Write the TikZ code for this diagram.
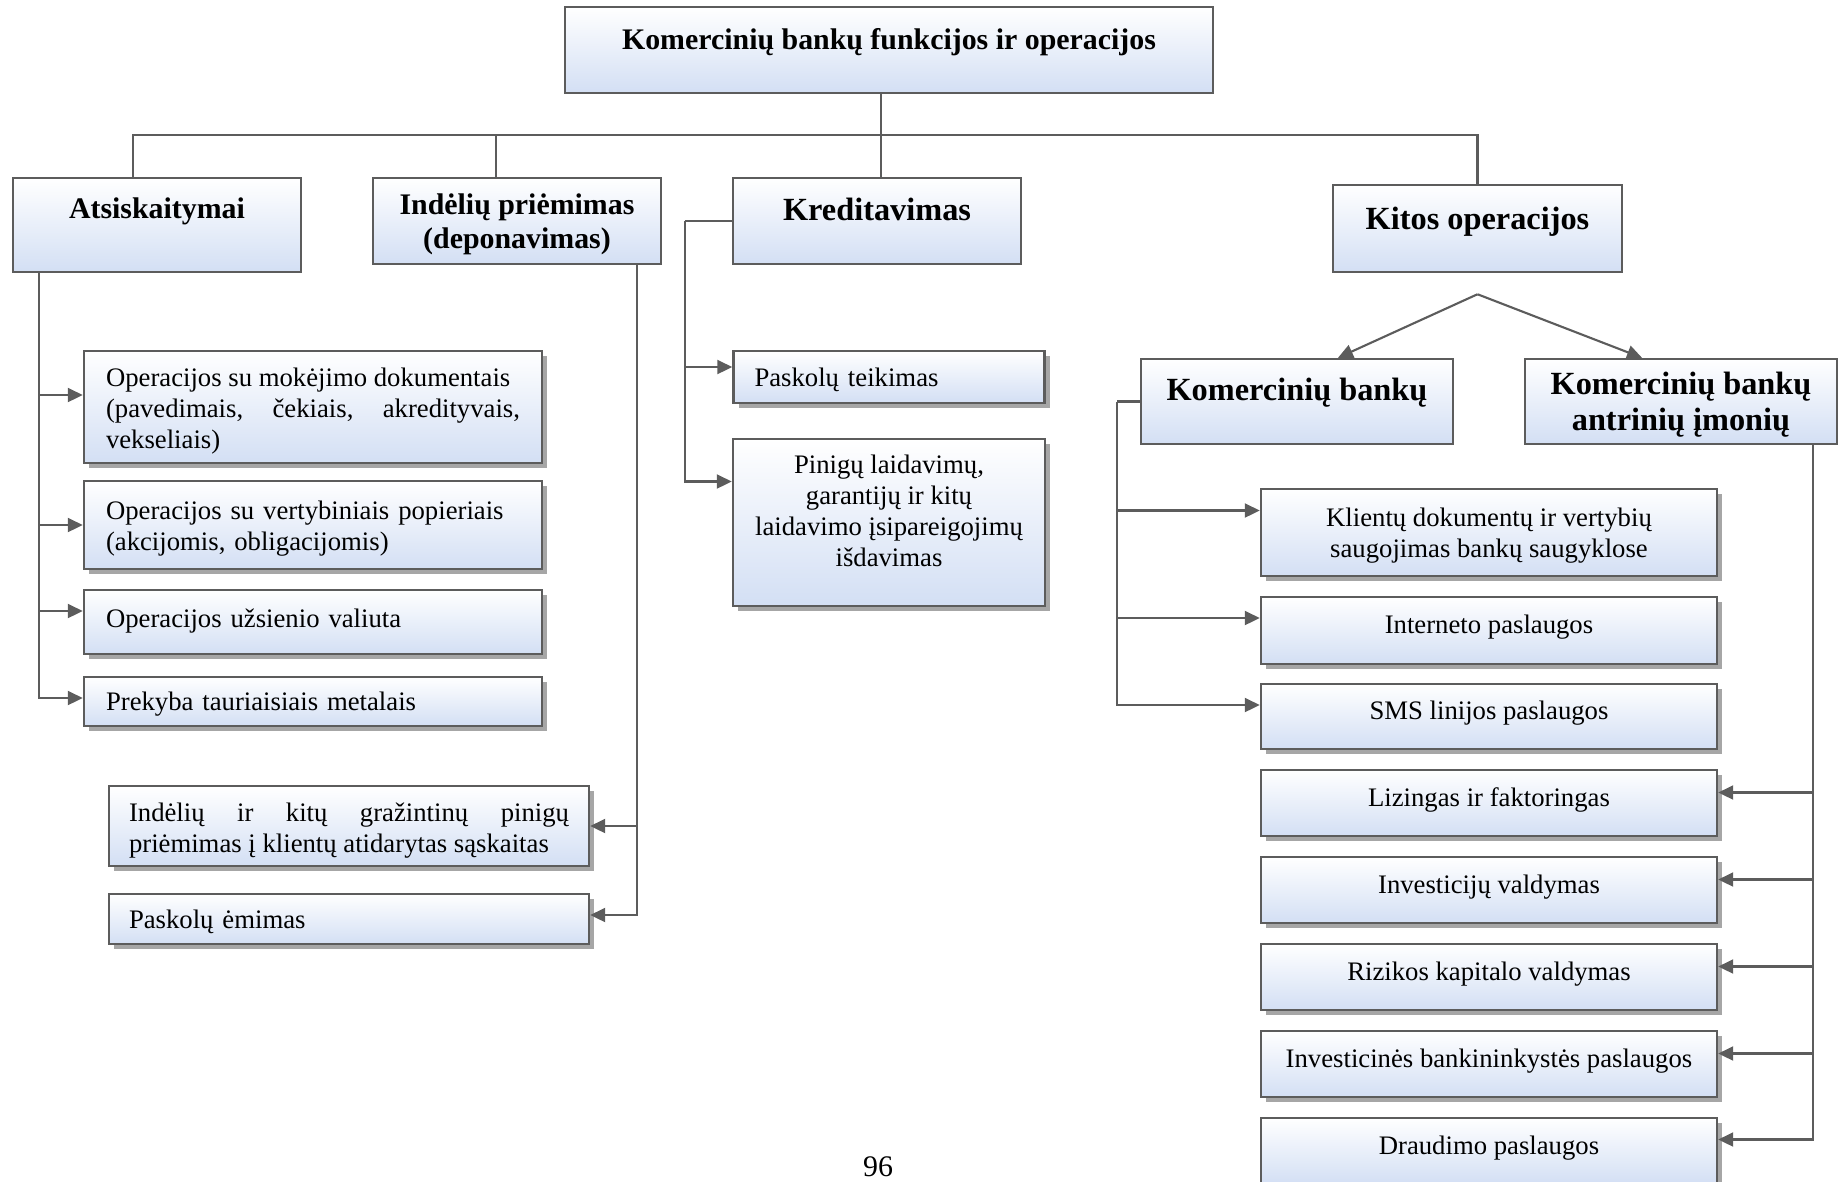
\documentclass[tikz,border=0pt]{standalone}
\usepackage{fontspec}
\setmainfont{Liberation Serif}
\usetikzlibrary{arrows.meta,shadows}

\definecolor{boxline}{RGB}{92,92,92}
\definecolor{boxblue}{RGB}{211,223,244}

\tikzset{
  bx/.style={draw=boxline, line width=0.7pt, top color=white, bottom color=boxblue, inner xsep=2mm, inner ysep=0pt},
  sh/.style={drop shadow={shadow xshift=0.5mm, shadow yshift=-0.5mm, fill=black!35, opacity=1}},
  hd/.style={font=\fontsize{8.5}{9.7}\selectfont\bfseries, align=center},
  hdb/.style={font=\fontsize{9.2}{10.2}\selectfont\bfseries, align=center},
  tx/.style={font=\fontsize{7.6}{8.8}\selectfont},
  ln/.style={draw=boxline, line width=0.6pt},
  arr/.style={ln, -{Triangle[length=1.5mm,width=1.4mm]}}
}

\begin{document}
\begin{tikzpicture}[x=0.1mm, y=-0.1mm]
    \useasboundingbox (0,0) rectangle (1839,1181);

    % Nodes
    \node[bx, hd, minimum width=64.8mm, minimum height=8.6mm, text depth=2.3mm] (T) at (889,50) {Komercinių bankų funkcijos ir operacijos};
    \node[bx, hd, minimum width=28.8mm, minimum height=9.4mm, text depth=3.3mm] (A) at (157,225) {Atsiskaitymai};
    \node[bx, hd, minimum width=28.8mm, minimum height=8.6mm, text depth=-0.6mm] (I) at (517,221) {Indėlių priėmimas\\(deponavimas)};
    \node[bx, hdb, minimum width=28.8mm, minimum height=8.6mm, text depth=2.3mm] (Kr) at (877,221) {Kreditavimas};
    \node[bx, hdb, minimum width=28.9mm, minimum height=8.7mm, text depth=2.1mm] (Ki) at (1477.5,228.5) {Kitos operacijos};

    % Atsiskaitymai
    \node[bx, sh, tx, inner xsep=2.2mm, text width=41.4mm, align=justify, minimum height=11.2mm, text height=2.6mm] (O1) at (313,407) {Operacijos su mokėjimo dokumentais\\(pavedimais, čekiais, akredityvais,\linebreak vekseliais)};
    \node[bx, sh, tx, inner xsep=2.2mm, text width=41.4mm, align=left, minimum height=8.8mm, text height=2.6mm] (O2) at (313,525) {Operacijos su vertybiniais popieriais\\(akcijomis, obligacijomis)};
    \node[bx, sh, tx, inner xsep=2.2mm, text width=41.4mm, align=left, minimum height=6.4mm, text depth=0.8mm] (O3) at (313,622) {Operacijos užsienio valiuta};
    \node[bx, sh, tx, inner xsep=2.2mm, text width=41.4mm, align=left, minimum height=4.9mm, text depth=0mm] (O4) at (313,701.5) {Prekyba tauriaisiais metalais};

    % Indeliai
    \node[bx, sh, tx, text width=44mm, align=justify, minimum height=8mm, text height=2.8mm] (D1) at (349,826) {Indėlių ir kitų gražintinų pinigų\linebreak priėmimas į klientų atidarytas sąskaitas};
    \node[bx, sh, tx, text width=44mm, align=left, minimum height=5mm, text depth=0mm] (D2) at (349,919) {Paskolų ėmimas};

    % Kreditavimas
    \node[bx, sh, tx, inner xsep=2.1mm, text width=26.9mm, align=left, minimum height=5.2mm, text depth=0mm] (P1) at (889,377) {Paskolų teikimas};
    \node[bx, sh, tx, minimum width=31.2mm, minimum height=16.7mm, align=center, text depth=2.4mm] (P2) at (889,522.5) {Pinigų laidavimų,\\garantijų ir kitų\\laidavimo įsipareigojimų\\išdavimas};

    % Kitos operacijos
    \node[bx, hdb, minimum width=31.2mm, minimum height=8.5mm, text depth=2.5mm] (KB) at (1297,401.5) {Komercinių bankų};
    \node[bx, hdb, minimum width=31.2mm, minimum height=8.5mm, text depth=-0.5mm] (KA) at (1681,401.5) {Komercinių bankų\\antrinių įmonių};

    \node[bx, sh, tx, align=center, minimum width=45.6mm, minimum height=8.7mm, text depth=0mm] (R1) at (1489,532.5) {Klientų dokumentų ir vertybių\\saugojimas bankų saugyklose};
    \node[bx, sh, tx, minimum width=45.6mm, minimum height=6.7mm, text depth=1.2mm] (R2) at (1489,630.5) {Interneto paslaugos};
    \node[bx, sh, tx, minimum width=45.6mm, minimum height=6.5mm, text depth=1.2mm] (R3) at (1489,716.5) {SMS linijos paslaugos};
    \node[bx, sh, tx, minimum width=45.6mm, minimum height=6.6mm, text depth=1.2mm] (R4) at (1489,803) {Lizingas ir faktoringas};
    \node[bx, sh, tx, minimum width=45.6mm, minimum height=6.6mm, text depth=1.2mm] (R5) at (1489,890) {Investicijų valdymas};
    \node[bx, sh, tx, minimum width=45.6mm, minimum height=6.6mm, text depth=1.2mm] (R6) at (1489,977) {Rizikos kapitalo valdymas};
    \node[bx, sh, tx, minimum width=45.6mm, minimum height=6.6mm, text depth=1.2mm] (R7) at (1489,1064) {Investicinės bankininkystės paslaugos};
    \node[bx, sh, tx, minimum width=45.6mm, minimum height=6.6mm, text depth=1.2mm] (R8) at (1489,1151) {Draudimo paslaugos};

    \node[font=\fontsize{8.5}{10}\selectfont] (pg) at (878,1167) {96};

    % Connectors
    \coordinate (b) at (881,135);
    \draw[ln] (T.south -| b) -- (b);
    \draw[ln] (b) -| ([xshift=-2.4mm]A.north);
    \draw[ln] (b) -| ([xshift=-2.1mm]I.north);
    \draw[ln] (b) -- (b |- Kr.north);
    \draw[ln] (b) -| (Ki.north);

    \coordinate (a0) at ([xshift=-11.8mm]A.south);
    \draw[arr] (a0) |- ([yshift=1.2mm]O1.west);
    \draw[arr] (a0) |- (O2.west);
    \draw[arr] (a0) |- ([yshift=1.1mm]O3.west);
    \draw[arr] (a0) |- ([yshift=0.35mm]O4.west);

    \coordinate (i0) at ([xshift=12mm]I.south);
    \draw[arr] (i0) |- (D1.east);
    \draw[arr] (i0) |- ([yshift=0.4mm]D2.east);

    \coordinate (k1) at ([xshift=-4.7mm]Kr.west);
    \draw[ln] (Kr.west) -- (k1);
    \draw[arr] (k1) |- ([yshift=1mm]P1.west);
    \draw[arr] (k1) |- ([yshift=4.1mm]P2.west);

    \coordinate (k0) at ([yshift=-2.1mm]Ki.south);
    \draw[arr] (k0) -- ([xshift=4.1mm]KB.north);
    \draw[arr] (k0) -- ([xshift=-3.9mm]KA.north);

    \coordinate (kb0) at ([xshift=-2.3mm]KB.west);
    \draw[ln] (KB.west) -- (kb0);
    \draw[arr] (kb0) |- ([yshift=2.2mm]R1.west);
    \draw[arr] (kb0) |- ([yshift=1.25mm]R2.west);
    \draw[arr] (kb0) |- ([yshift=1.15mm]R3.west);

    \coordinate (ka0) at ([xshift=13.2mm]KA.south);
    \draw[arr] (ka0) |- ([yshift=1.05mm]R4.east);
    \draw[arr] (ka0) |- ([yshift=1.05mm]R5.east);
    \draw[arr] (ka0) |- ([yshift=1.05mm]R6.east);
    \draw[arr] (ka0) |- ([yshift=1.05mm]R7.east);
    \draw[arr] (ka0) |- ([yshift=1.15mm]R8.east);
\end{tikzpicture}
\end{document}
